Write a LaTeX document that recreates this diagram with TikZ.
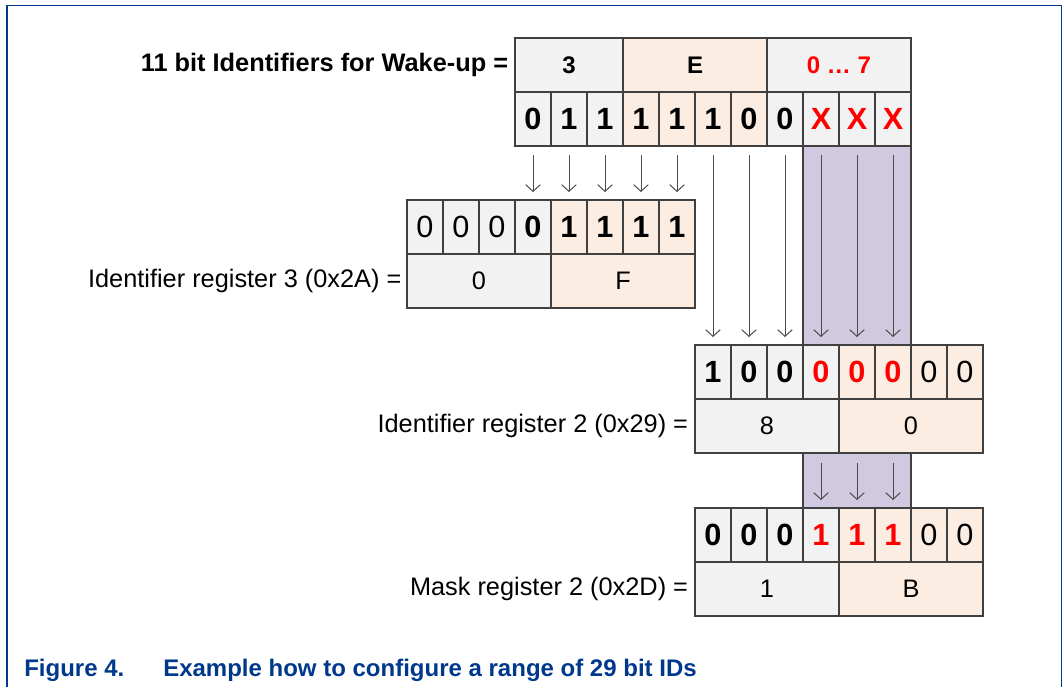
\documentclass[tikz,border=0pt]{standalone}
\usepackage{fontspec}
\setmainfont{Liberation Sans}
\usetikzlibrary{positioning,backgrounds,arrows.meta}

\definecolor{cellgrey}{RGB}{242,242,242}
\definecolor{cellpeach}{RGB}{252,237,226}
\definecolor{bandlilac}{RGB}{209,201,223}
\definecolor{nxpblue}{RGB}{0,56,140}
\definecolor{bitred}{RGB}{255,0,0}

\begin{document}
\begin{tikzpicture}[x=0.75pt,y=-0.75pt,
  cell/.style={draw=black!75,line width=0.8pt,inner sep=0pt,outer sep=0pt,minimum height=40.5pt},
  bitcell/.style={cell,minimum width=27pt,font=\fontsize{23}{23}\selectfont\bfseries},
  plainbit/.style={font=\fontsize{23}{23}\selectfont},
  redbit/.style={text=bitred},
  hexcell/.style={cell,minimum width=108pt,font=\fontsize{19}{19}\selectfont},
  tophex/.style={hexcell,font=\fontsize{18}{18}\selectfont\bfseries},
  greycell/.style={fill=cellgrey},
  peachcell/.style={fill=cellpeach},
  lbl/.style={inner sep=0pt,font=\fontsize{19}{19}\selectfont},
  arr/.style={draw=black!70,line width=0.75pt,-{Straight Barb[length=5pt,width=11pt]}},
  band/.style={fill=bandlilac},
  bandedge/.style={draw=black!75,line width=0.8pt}]

  \useasboundingbox (0,0) rectangle (1063,687);

  % 11 bit wake-up identifier
  \node[bitcell,greycell] (t1) at (533,119) {0};
  \node[bitcell,greycell,right=0pt of t1] (t2) {1};
  \node[bitcell,greycell,right=0pt of t2] (t3) {1};
  \node[bitcell,peachcell,right=0pt of t3] (t4) {1};
  \node[bitcell,peachcell,right=0pt of t4] (t5) {1};
  \node[bitcell,peachcell,right=0pt of t5] (t6) {1};
  \node[bitcell,peachcell,right=0pt of t6] (t7) {0};
  \node[bitcell,greycell,right=0pt of t7] (t8) {0};
  \node[bitcell,greycell,redbit,right=0pt of t8] (t9) {X};
  \node[bitcell,greycell,redbit,right=0pt of t9] (t10) {X};
  \node[bitcell,greycell,redbit,right=0pt of t10] (t11) {X};

  \node[tophex,greycell,minimum width=81pt,anchor=south west] (hx3) at (t1.north west) {3};
  \node[tophex,peachcell,right=0pt of hx3] (hxE) {E};
  \node[tophex,greycell,redbit,right=0pt of hxE] (hx07) {0 … 7};
  \node[lbl,font=\fontsize{19}{19}\selectfont\bfseries,left=5pt of hx3] (wakeup) {11 bit Identifiers for Wake-up =};

  % identifier register 3
  \node[bitcell,greycell,plainbit] (a1) at (425,227) {0};
  \node[bitcell,greycell,plainbit,right=0pt of a1] (a2) {0};
  \node[bitcell,greycell,plainbit,right=0pt of a2] (a3) {0};
  \node[bitcell,greycell,right=0pt of a3] (a4) {0};
  \node[bitcell,peachcell,right=0pt of a4] (a5) {1};
  \node[bitcell,peachcell,right=0pt of a5] (a6) {1};
  \node[bitcell,peachcell,right=0pt of a6] (a7) {1};
  \node[bitcell,peachcell,right=0pt of a7] (a8) {1};

  \node[hexcell,greycell,anchor=north west] (r3lo) at (a1.south west) {0};
  \node[hexcell,peachcell,right=0pt of r3lo] (r3hi) {F};
  \node[lbl,left=4pt of r3lo] (idr3) {Identifier register 3 (0x2A) =};

  % identifier register 2
  \node[bitcell,greycell] (b1) at (713,372) {1};
  \node[bitcell,greycell,right=0pt of b1] (b2) {0};
  \node[bitcell,greycell,right=0pt of b2] (b3) {0};
  \node[bitcell,greycell,redbit,right=0pt of b3] (b4) {0};
  \node[bitcell,peachcell,redbit,right=0pt of b4] (b5) {0};
  \node[bitcell,peachcell,redbit,right=0pt of b5] (b6) {0};
  \node[bitcell,peachcell,plainbit,right=0pt of b6] (b7) {0};
  \node[bitcell,peachcell,plainbit,right=0pt of b7] (b8) {0};

  \node[hexcell,greycell,anchor=north west] (r2lo) at (b1.south west) {8};
  \node[hexcell,peachcell,right=0pt of r2lo] (r2hi) {0};
  \node[lbl,left=5pt of r2lo] (idr2) {Identifier register 2 (0x29) =};

  % mask register 2
  \node[bitcell,greycell] (m1) at (713,535) {0};
  \node[bitcell,greycell,right=0pt of m1] (m2) {0};
  \node[bitcell,greycell,right=0pt of m2] (m3) {0};
  \node[bitcell,greycell,redbit,right=0pt of m3] (m4) {1};
  \node[bitcell,peachcell,redbit,right=0pt of m4] (m5) {1};
  \node[bitcell,peachcell,redbit,right=0pt of m5] (m6) {1};
  \node[bitcell,peachcell,plainbit,right=0pt of m6] (m7) {0};
  \node[bitcell,peachcell,plainbit,right=0pt of m7] (m8) {0};

  \node[hexcell,greycell,anchor=north west] (mlo) at (m1.south west) {1};
  \node[hexcell,peachcell,right=0pt of mlo] (mhi) {B};
  \node[lbl,left=5pt of mlo] (mr2) {Mask register 2 (0x2D) =};

  % don't care bits
  \begin{scope}[on background layer]
    \fill[band] (t9.south west) rectangle (b6.north east);
    \fill[band] (m4.north west |- r2lo.south) rectangle (m6.north east);
  \end{scope}
  \draw[bandedge] (t9.south west) -- (b4.north west);
  \draw[bandedge] (t11.south east) -- (b6.north east);
  \draw[bandedge] (m4.north west |- r2lo.south) -- (m4.north west);
  \draw[bandedge] (m6.north east |- r2lo.south) -- (m6.north east);

  \path[every edge/.append style={arr,shorten <=6.75pt,shorten >=6pt}]
    (t1.south) edge (a4.north)
    (t2.south) edge (a5.north)
    (t3.south) edge (a6.north)
    (t4.south) edge (a7.north)
    (t5.south) edge (a8.north)
    (t6.south) edge (b1.north)
    (t7.south) edge (b2.north)
    (t8.south) edge (b3.north)
    (t9.south) edge (b4.north)
    (t10.south) edge (b5.north)
    (t11.south) edge (b6.north);
  \path[every edge/.append style={arr,shorten <=7.5pt,shorten >=6pt}]
    (b4 |- r2lo.south) edge (m4.north)
    (b5 |- r2lo.south) edge (m5.north)
    (b6 |- r2lo.south) edge (m6.north);

  % frame and caption
  \draw[nxpblue,line width=1.1pt] (7,687) -- (7,5.5) -- (1061.5,5.5) -- (1061.5,687);
  \node[anchor=base west,inner sep=0pt,text=nxpblue,font=\fontsize{18}{18}\selectfont\bfseries] (fignum) at (24,676) {Figure 4.};
  \node[anchor=base west,inner sep=0pt,text=nxpblue,font=\fontsize{18}{18}\selectfont\bfseries] (figtitle) at (163,676) {Example how to configure a range of 29 bit IDs};
\end{tikzpicture}
\end{document}
